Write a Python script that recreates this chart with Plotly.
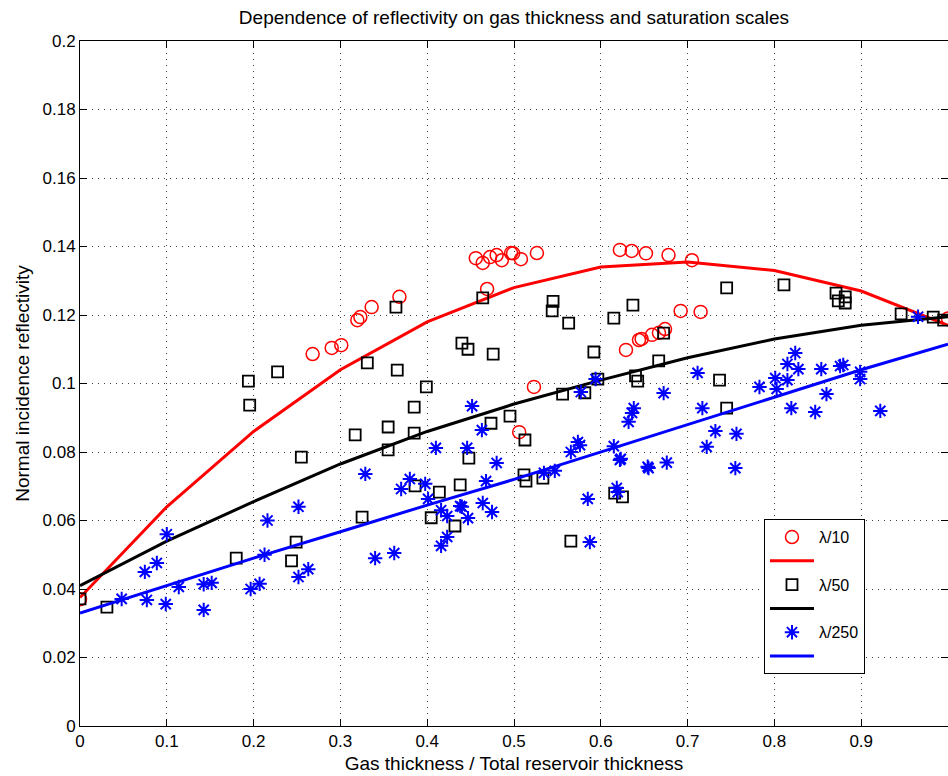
import plotly.graph_objects as go

# Fitted curves, sampled every 0.1 of gas fraction
curve_x = [0.0, 0.1, 0.2, 0.3, 0.4, 0.5, 0.6, 0.7, 0.8, 0.9, 1.0]
fit_l10 = [0.0375, 0.064, 0.086, 0.104, 0.118, 0.128, 0.134, 0.1355, 0.133, 0.127, 0.117]
fit_l50 = [0.041, 0.054, 0.0655, 0.0765, 0.086, 0.094, 0.101, 0.1075, 0.113, 0.117, 0.1195]
fit_l250 = [0.033, 0.041, 0.049, 0.0567, 0.0645, 0.072, 0.080, 0.088, 0.096, 0.104, 0.1115]

# Modelled reflectivities, lambda/10 scale
l10_x = [0.0, 0.268, 0.290, 0.301, 0.3195, 0.323, 0.336, 0.368, 0.456, 0.464, 0.469,
         0.4724, 0.480, 0.486, 0.4966, 0.499, 0.508, 0.506, 0.523, 0.5264, 0.622,
         0.6356, 0.652, 0.629, 0.644, 0.647, 0.659, 0.667, 0.674, 0.678, 0.692,
         0.705, 0.715, 1.0]
l10_y = [0.037, 0.1086, 0.1104, 0.1112, 0.1185, 0.1194, 0.1223, 0.1253, 0.1366, 0.1352, 0.1276,
         0.1369, 0.1375, 0.136, 0.1381, 0.138, 0.1363, 0.0858, 0.099, 0.1381, 0.139,
         0.1387, 0.138, 0.1098, 0.1127, 0.113, 0.1142, 0.1148, 0.1159, 0.1375, 0.1212,
         0.136, 0.1209, 0.119]

# lambda/50 scale
l50_x = [0.0, 0.031, 0.180, 0.194, 0.1955, 0.2276, 0.2437, 0.249, 0.255, 0.317, 0.325,
         0.331, 0.355, 0.355, 0.364, 0.3655, 0.385, 0.385, 0.386, 0.399, 0.4046,
         0.414, 0.432, 0.438, 0.440, 0.447, 0.448, 0.464, 0.4735, 0.476, 0.4954,
         0.5115, 0.5126, 0.5138, 0.5333, 0.544, 0.545, 0.556, 0.563, 0.5655, 0.5816,
         0.592, 0.5966, 0.615, 0.616, 0.625, 0.637, 0.640, 0.6425, 0.6667, 0.6724,
         0.7368, 0.745, 0.745, 0.811, 0.871, 0.8736, 0.8816, 0.8816, 0.946, 0.983,
         0.995]
l50_y = [0.0371, 0.0347, 0.049, 0.1007, 0.0937, 0.1034, 0.0482, 0.0537, 0.0785, 0.085, 0.061,
         0.106, 0.0873, 0.0806, 0.1223, 0.1039, 0.0931, 0.0855, 0.0701, 0.099, 0.0608,
         0.0683, 0.0584, 0.0704, 0.1118, 0.110, 0.0782, 0.125, 0.0884, 0.1086, 0.0905,
         0.0733, 0.0835, 0.0715, 0.0724, 0.1212, 0.124, 0.0969, 0.1176, 0.054, 0.0973,
         0.1092, 0.1013, 0.1191, 0.068, 0.0669, 0.1229, 0.1022, 0.1007, 0.1066, 0.1147,
         0.101, 0.0928, 0.1279, 0.1288, 0.1264, 0.1241, 0.1253, 0.1235, 0.1203, 0.1194,
         0.1185]

# lambda/250 scale
l250_x = [0.048, 0.0747, 0.077, 0.0885, 0.0988, 0.100, 0.1138, 0.1425, 0.1425, 0.1517,
          0.1966, 0.2069, 0.2126, 0.216, 0.2517, 0.2517, 0.263, 0.3287, 0.340, 0.362,
          0.370, 0.380, 0.3977, 0.401, 0.410, 0.416, 0.416, 0.423, 0.423, 0.438,
          0.440, 0.446, 0.447, 0.4517, 0.463, 0.464, 0.4678, 0.4747, 0.480, 0.5345,
          0.547, 0.5655, 0.5736, 0.576, 0.577, 0.585, 0.5874, 0.594, 0.615, 0.6184,
          0.6195, 0.622, 0.623, 0.632, 0.636, 0.638, 0.654, 0.655, 0.6724, 0.676,
          0.7115, 0.717, 0.722, 0.732, 0.755, 0.7563, 0.7828, 0.801, 0.8026, 0.815,
          0.815, 0.8195, 0.824, 0.8276, 0.847, 0.854, 0.860, 0.8757, 0.8793, 0.8988,
          0.8988, 0.922, 0.9655]
l250_y = [0.0371, 0.045, 0.0368, 0.0476, 0.0356, 0.056, 0.0406, 0.0339, 0.0414, 0.0418,
          0.040, 0.0415, 0.050, 0.060, 0.0435, 0.064, 0.0458, 0.0736, 0.049, 0.0505,
          0.0692, 0.0721, 0.0707, 0.0663, 0.0812, 0.063, 0.0526, 0.0613, 0.0552, 0.0642,
          0.064, 0.0812, 0.0607, 0.0934, 0.0864, 0.0651, 0.0715, 0.0625, 0.0768, 0.0739,
          0.0745, 0.080, 0.0829, 0.082, 0.0975, 0.0663, 0.0537, 0.1013, 0.0817, 0.0695,
          0.0683, 0.0777, 0.078, 0.0888, 0.0914, 0.0928, 0.0757, 0.0753, 0.0972, 0.0769,
          0.1031, 0.0928, 0.0815, 0.0861, 0.0753, 0.0853, 0.099, 0.1016, 0.0984, 0.1057,
          0.101, 0.0928, 0.1089, 0.1042, 0.0917, 0.1042, 0.0969, 0.1051, 0.1054, 0.1034,
          0.1013, 0.092, 0.1195]

FONT = "Liberation Sans, Arial, Helvetica, sans-serif"

series = [
    ("\u03bb/10", l10_x, l10_y, fit_l10, "#ff0000",
     dict(symbol="circle-open", size=13, line=dict(width=1.5, color="#ff0000"))),
    ("\u03bb/50", l50_x, l50_y, fit_l50, "#000000",
     dict(symbol="square-open", size=11, line=dict(width=1.8, color="#000000"))),
    ("\u03bb/250", l250_x, l250_y, fit_l250, "#0000ff",
     dict(symbol="asterisk-open", size=12, line=dict(width=2, color="#0000ff"))),
]

fig = go.Figure()
for name, xs, ys, fit, color, marker in series:
    fig.add_trace(go.Scatter(x=xs, y=ys, mode="markers", name=name,
                             marker=dict(color=color, **marker)))
    fig.add_trace(go.Scatter(x=curve_x, y=fit, mode="lines", name=" ",
                             line=dict(color=color, width=3)))

axis_common = dict(
    showline=True, linecolor="black", linewidth=1, mirror="ticks",
    ticks="inside", ticklen=7, tickcolor="black",
    showgrid=True, gridcolor="rgba(0,0,0,0.75)", gridwidth=1, griddash="1px,5px",
    zeroline=False, tickfont=dict(family=FONT, size=17, color="black"),
)

fig.update_layout(
    width=948, height=776,
    margin=dict(l=80, r=0, t=41, b=50),
    paper_bgcolor="white", plot_bgcolor="white",
    font=dict(family=FONT, size=17, color="black"),
    title=dict(text="Dependence of reflectivity on gas thickness and saturation scales",
               x=0.5, xref="paper", y=0.978, yref="container",
               xanchor="center", yanchor="middle",
               font=dict(family=FONT, size=19, color="black")),
    xaxis=dict(range=[0, 1], dtick=0.1, tick0=0,
               title=dict(text="Gas thickness / Total reservoir thickness",
                          standoff=6, font=dict(family=FONT, size=19)),
               **axis_common),
    yaxis=dict(range=[0, 0.2], dtick=0.02, tick0=0,
               title=dict(text="Normal incidence reflectivity",
                          standoff=7, font=dict(family=FONT, size=19)),
               **axis_common),
    legend=dict(x=0.788, y=0.302, xanchor="left", yanchor="top",
                bgcolor="white", bordercolor="black", borderwidth=1,
                font=dict(family=FONT, size=16), tracegroupgap=0,
                itemwidth=44),
    showlegend=True,
)

fig.write_html("out.html")
